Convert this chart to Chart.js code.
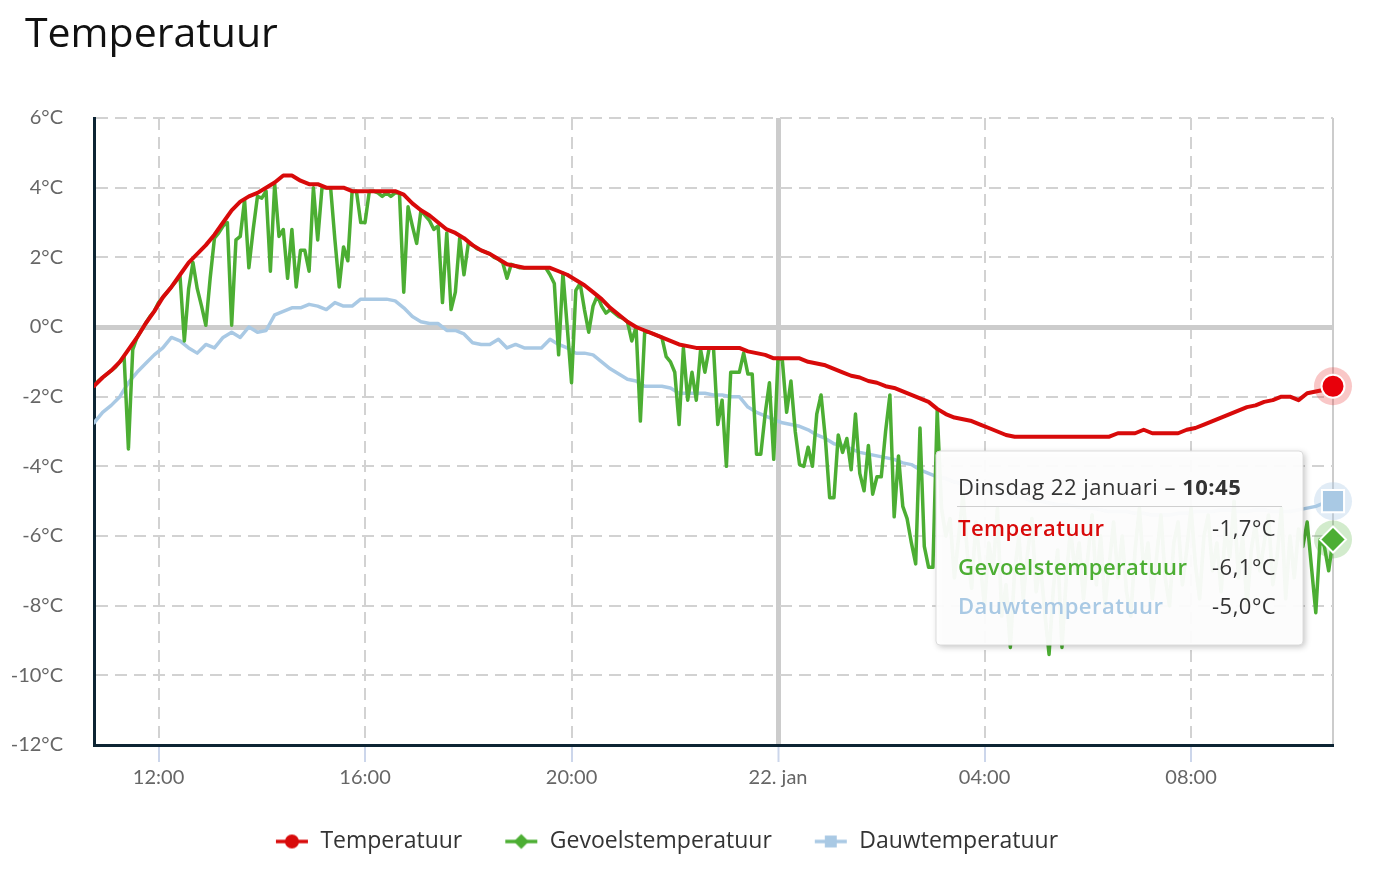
<!DOCTYPE html>
<html>
<head>
<meta charset="utf-8">
<script src="https://cdn.jsdelivr.net/npm/chart.js@4.4.1/dist/chart.umd.min.js"></script>
<style>
html,body{margin:0;padding:0;background:#fff;}
#wrap{position:relative;width:1390px;height:892px;overflow:hidden;}
#title{position:absolute;left:25px;top:3px;margin:0;font-family:"Open Sans",Lato,sans-serif;font-weight:400;font-size:41px;color:#111;line-height:normal;}
#c{position:absolute;left:0;top:0;}
</style>
</head>
<body>
<div id="wrap">
<canvas id="c" width="1390" height="892"></canvas>
<h1 id="title">Temperatuur</h1>
</div>
<script>
// ---- data ----
const startMinute = 645;   // 21 jan 10:45 (minutes since 21 jan 00:00)
const endMinute = 2085;    // 22 jan 10:45
const stepRedDew = 10;     // minutes between samples
const stepFeel = 5;

const seriesNames = ['Temperatuur', 'Gevoelstemperatuur', 'Dauwtemperatuur'];

const xTickMinutes = [720, 960, 1200, 1440, 1680, 1920, 2085];
const xTickLabels = ['12:00', '16:00', '20:00', '22. jan', '04:00', '08:00', ''];
const yTickValues = [-12, -10, -8, -6, -4, -2, 0, 2, 4, 6];
const yTickLabels = ['-12°C', '-10°C', '-8°C', '-6°C', '-4°C', '-2°C', '0°C', '2°C', '4°C', '6°C'];

const tooltipDate = 'Dinsdag 22 januari – ';
const tooltipTime = '10:45';

const temperatuur = [
 -1.7,-1.45,-1.25,-1.0,-0.65,-0.3,0.1,0.45,0.85,1.15,
 1.5,1.85,2.1,2.35,2.65,3.0,3.35,3.6,3.75,3.85,
 4.0,4.15,4.35,4.35,4.2,4.1,4.1,4.0,4.0,4.0,
 3.9,3.9,3.9,3.9,3.9,3.9,3.8,3.55,3.35,3.2,
 3.0,2.8,2.7,2.55,2.35,2.2,2.1,1.95,1.8,1.75,
 1.7,1.7,1.7,1.7,1.6,1.5,1.35,1.2,1.0,0.8,
 0.55,0.35,0.15,0.0,-0.1,-0.2,-0.3,-0.4,-0.5,-0.55,
 -0.6,-0.6,-0.6,-0.6,-0.6,-0.6,-0.7,-0.75,-0.8,-0.9,
 -0.9,-0.9,-0.9,-1.0,-1.05,-1.1,-1.2,-1.3,-1.4,-1.45,
 -1.55,-1.6,-1.7,-1.75,-1.85,-1.95,-2.05,-2.15,-2.35,-2.5,
 -2.6,-2.65,-2.7,-2.8,-2.9,-3.0,-3.1,-3.15,-3.15,-3.15,
 -3.15,-3.15,-3.15,-3.15,-3.15,-3.15,-3.15,-3.15,-3.15,-3.05,
 -3.05,-3.05,-2.95,-3.05,-3.05,-3.05,-3.05,-2.95,-2.9,-2.8,
 -2.7,-2.6,-2.5,-2.4,-2.3,-2.25,-2.15,-2.1,-2.0,-2.0,
 -2.1,-1.9,-1.85,-1.8,-1.7
];

const dauwtemperatuur = [
 -2.75,-2.45,-2.25,-2.0,-1.6,-1.3,-1.05,-0.8,-0.6,-0.3,
 -0.4,-0.6,-0.75,-0.5,-0.6,-0.3,-0.15,-0.3,0.0,-0.15,
 -0.1,0.35,0.45,0.55,0.55,0.65,0.6,0.5,0.7,0.6,
 0.6,0.8,0.8,0.8,0.8,0.75,0.55,0.3,0.15,0.1,
 0.1,-0.1,-0.1,-0.2,-0.45,-0.5,-0.5,-0.35,-0.6,-0.5,
 -0.6,-0.6,-0.6,-0.35,-0.5,-0.6,-0.75,-0.75,-0.8,-1.0,
 -1.2,-1.35,-1.5,-1.55,-1.7,-1.7,-1.7,-1.75,-1.9,-1.9,
 -1.9,-1.9,-1.95,-1.95,-2.0,-2.0,-2.3,-2.45,-2.55,-2.65,
 -2.75,-2.8,-2.85,-2.95,-3.1,-3.2,-3.35,-3.4,-3.5,-3.6,
 -3.65,-3.7,-3.75,-3.8,-3.9,-3.95,-4.1,-4.2,-4.3,-4.35,
 -4.45,-4.5,-4.55,-4.6,-4.7,-4.75,-4.8,-4.85,-4.9,-5.0,
 -5.0,-5.05,-5.1,-5.1,-5.15,-5.2,-5.2,-5.25,-5.3,-5.3,
 -5.3,-5.35,-5.35,-5.4,-5.4,-5.4,-5.35,-5.35,-5.3,-5.3,
 -5.3,-5.25,-5.25,-5.3,-5.3,-5.25,-5.25,-5.3,-5.3,-5.3,
 -5.25,-5.2,-5.15,-5.05,-5.0
];

const gevoelstemperatuur = [
 -1.7,-1.55,-1.45,-1.35,-1.25,-1.15,-1.0,-0.85,-3.5,-0.65,
 -0.3,-0.1,0.1,0.3,0.45,0.7,0.85,1.0,1.15,1.3,
 1.45,-0.4,1.1,1.85,1.1,0.6,0.05,1.4,2.55,2.7,
 2.9,3.0,0.05,2.5,2.6,3.65,1.7,2.8,3.75,3.7,
 3.9,1.6,4.1,2.6,2.8,1.4,2.8,1.15,2.2,2.2,
 1.6,4.0,2.5,4.0,4.0,4.0,2.5,1.15,2.3,1.9,
 3.9,3.9,3.0,3.0,3.9,3.9,3.85,3.75,3.85,3.75,
 3.85,3.85,1.0,3.45,2.9,2.4,3.35,3.2,3.05,2.8,
 2.9,0.7,2.7,0.5,1.0,2.55,1.5,2.4,2.35,2.25,
 2.2,2.15,2.1,2.0,1.95,1.85,1.4,1.8,1.75,1.7,
 1.7,1.7,1.7,1.7,1.7,1.7,1.5,1.25,-0.8,1.55,
 0.0,-1.6,1.05,1.25,0.5,-0.15,0.6,0.9,0.6,0.4,
 0.5,0.4,0.3,0.25,0.15,-0.4,0.0,-2.7,-0.15,-0.15,
 -0.2,-0.25,-0.3,-0.85,-1.0,-1.3,-2.8,-0.6,-2.1,-1.3,
 -2.1,-0.65,-1.3,-0.6,-0.6,-2.8,-2.1,-4.0,-1.3,-1.3,
 -1.3,-0.75,-1.35,-1.35,-3.65,-3.65,-2.5,-1.6,-3.8,-0.9,
 -0.95,-2.45,-1.55,-3.0,-3.95,-4.0,-3.45,-4.0,-2.5,-1.95,
 -3.2,-4.9,-4.9,-3.1,-3.6,-3.2,-4.1,-2.5,-4.2,-4.7,
 -3.4,-4.8,-4.3,-4.3,-3.0,-1.95,-5.45,-3.7,-5.15,-5.5,
 -6.2,-6.8,-2.9,-6.3,-6.9,-6.9,-2.4,-5.2,-6.0,-5.5,
 -7.2,-6.0,-4.8,-6.5,-7.5,-5.6,-6.8,-8.0,-6.2,-7.0,
 -5.2,-8.3,-7.4,-9.2,-7.0,-6.0,-7.8,-6.5,-5.5,-7.6,
 -6.8,-8.2,-9.4,-7.5,-6.4,-9.2,-7.2,-5.8,-7.0,-6.2,
 -7.8,-6.6,-5.4,-7.4,-6.0,-8.0,-6.8,-5.6,-7.2,-6.0,
 -7.6,-8.3,-6.4,-5.2,-7.0,-6.2,-7.8,-6.6,-5.4,-7.2,
 -8.0,-6.2,-5.6,-7.4,-6.4,-5.2,-6.8,-7.8,-6.0,-5.4,
 -7.0,-6.2,-7.6,-5.8,-6.6,-5.0,-7.2,-6.0,-8.0,-6.4,
 -5.6,-7.0,-6.2,-5.4,-7.4,-6.6,-5.2,-7.8,-6.0,-7.2,
 -5.8,-6.3,-5.6,-6.9,-8.2,-6.1,-6.3,-7.0,-6.1
];

// ---- styling ----
const colors = ['#d80a0a', '#4cae33', '#a9c9e4'];
const markerColors = ['#e8000b', '#4cae33', '#a9c9e4'];
const haloColors = ['rgba(232,30,30,0.25)', 'rgba(76,174,51,0.25)', 'rgba(169,201,228,0.35)'];
const shapes = ['circle', 'diamond', 'square'];
const AXISFONT = 'Lato, "Open Sans", sans-serif';
const TEXTFONT = '"Open Sans", Lato, sans-serif';

function toPoints(vals, step) {
  return vals.map((v, i) => ({ x: startMinute + i * step, y: v }));
}

function drawShape(g, shape, x, y, r) {
  g.beginPath();
  if (shape === 'circle') {
    g.arc(x, y, r, 0, Math.PI * 2);
  } else if (shape === 'diamond') {
    g.moveTo(x, y - r); g.lineTo(x + r, y); g.lineTo(x, y + r); g.lineTo(x - r, y); g.closePath();
  } else {
    const s = r * 0.85;
    g.rect(x - s, y - s, 2 * s, 2 * s);
  }
}

function legendIcon(i) {
  const c = document.createElement('canvas');
  c.width = 34; c.height = 18;
  const g = c.getContext('2d');
  g.strokeStyle = colors[i]; g.lineWidth = 3.5;
  g.beginPath(); g.moveTo(1, 9); g.lineTo(33, 9); g.stroke();
  g.fillStyle = colors[i];
  drawShape(g, shapes[i], 17, 9, shapes[i] === 'diamond' ? 7.5 : 7);
  g.fill();
  return c;
}
const legendIcons = [0, 1, 2].map(legendIcon);

const markerPlugin = {
  id: 'lastMarkers',
  afterDatasetsDraw(chart) {
    const ctx = chart.ctx;
    for (let i = chart.data.datasets.length - 1; i >= 0; i--) {
      const meta = chart.getDatasetMeta(i);
      const el = meta.data[meta.data.length - 1];
      ctx.save();
      ctx.beginPath();
      ctx.arc(el.x, el.y, 19, 0, Math.PI * 2);
      ctx.fillStyle = haloColors[i];
      ctx.fill();
      const r = shapes[i] === 'circle' ? 11.5 : 13;
      drawShape(ctx, shapes[i], el.x, el.y, r);
      ctx.fillStyle = markerColors[i];
      ctx.fill();
      ctx.lineWidth = 2;
      ctx.strokeStyle = '#ffffff';
      ctx.stroke();
      ctx.restore();
    }
  }
};

function fmt(v) { return v.toFixed(1).replace('.', ',') + '°C'; }

const tooltipPlugin = {
  id: 'fixedTooltip',
  afterDraw(chart) {
    const ctx = chart.ctx;
    const ca = chart.chartArea;
    const x0 = ca.right - 397, y0 = ca.top + 333, w = 367, h = 194, rr = 4;
    ctx.save();
    ctx.beginPath();
    ctx.moveTo(x0 + rr, y0);
    ctx.lineTo(x0 + w - rr, y0); ctx.quadraticCurveTo(x0 + w, y0, x0 + w, y0 + rr);
    ctx.lineTo(x0 + w, y0 + h - rr); ctx.quadraticCurveTo(x0 + w, y0 + h, x0 + w - rr, y0 + h);
    ctx.lineTo(x0 + rr, y0 + h); ctx.quadraticCurveTo(x0, y0 + h, x0, y0 + h - rr);
    ctx.lineTo(x0, y0 + rr); ctx.quadraticCurveTo(x0, y0, x0 + rr, y0);
    ctx.closePath();
    ctx.shadowColor = 'rgba(0,0,0,0.25)';
    ctx.shadowBlur = 6; ctx.shadowOffsetX = 2; ctx.shadowOffsetY = 2;
    ctx.fillStyle = 'rgba(255,255,255,0.95)';
    ctx.fill();
    ctx.shadowColor = 'rgba(0,0,0,0)';
    ctx.lineWidth = 1; ctx.strokeStyle = '#dcdcdc'; ctx.stroke();

    ctx.textBaseline = 'alphabetic'; ctx.textAlign = 'left';
    if ('letterSpacing' in ctx) ctx.letterSpacing = '0.5px';
    ctx.font = '22px ' + TEXTFONT; ctx.fillStyle = '#333333';
    ctx.fillText(tooltipDate, x0 + 22, y0 + 44);
    const tw = ctx.measureText(tooltipDate).width;
    ctx.font = 'bold 22px ' + TEXTFONT;
    ctx.fillText(tooltipTime, x0 + 22 + tw, y0 + 44);

    ctx.beginPath(); ctx.strokeStyle = '#cfcfcf'; ctx.lineWidth = 1;
    ctx.moveTo(x0 + 21, y0 + 55.5); ctx.lineTo(x0 + 346, y0 + 55.5); ctx.stroke();

    chart.data.datasets.forEach((ds, i) => {
      const yb = y0 + 85 + i * 39;
      ctx.font = '600 22px ' + TEXTFONT; ctx.fillStyle = colors[i];
      ctx.fillText(ds.label, x0 + 22, yb);
      const last = ds.data[ds.data.length - 1].y;
      ctx.font = '22px ' + TEXTFONT; ctx.fillStyle = '#333333';
      ctx.fillText(fmt(last), x0 + 276, yb);
    });
    ctx.restore();
  }
};

const isTick = c => c && c.type === 'tick' && c.tick;

new Chart(document.getElementById('c'), {
  type: 'line',
  data: {
    datasets: [
      { label: seriesNames[0], data: toPoints(temperatuur, stepRedDew), borderColor: colors[0], backgroundColor: colors[0], borderWidth: 4 },
      { label: seriesNames[1], data: toPoints(gevoelstemperatuur, stepFeel), borderColor: colors[1], backgroundColor: colors[1], borderWidth: 3.5 },
      { label: seriesNames[2], data: toPoints(dauwtemperatuur, stepRedDew), borderColor: colors[2], backgroundColor: colors[2], borderWidth: 3.5 }
    ]
  },
  options: {
    responsive: false,
    animation: false,
    events: [],
    elements: {
      point: { radius: 0, hoverRadius: 0 },
      line: { tension: 0, borderJoinStyle: 'round', borderCapStyle: 'round', fill: false }
    },
    layout: { padding: { top: 118, right: 57, bottom: 29, left: 0 } },
    scales: {
      x: {
        type: 'linear',
        min: startMinute,
        max: endMinute,
        afterBuildTicks: s => { s.ticks = xTickMinutes.map(v => ({ value: v })); },
        afterFit: s => { s.height = 43; },
        ticks: {
          autoSkip: false, maxRotation: 0, padding: 4, color: '#666666',
          font: { family: AXISFONT, size: 20 },
          callback: (v, i) => xTickLabels[i]
        },
        grid: {
          drawTicks: true, tickLength: 17, tickWidth: 2,
          tickColor: c => (isTick(c) && c.tick.value === endMinute) ? 'rgba(0,0,0,0)' : '#ccd6eb',
          color: c => (isTick(c) && (c.tick.value === 1440 || c.tick.value === endMinute)) ? '#cccccc' : '#d2d2d2',
          lineWidth: c => (isTick(c) && c.tick.value === 1440) ? 5 : 2
        },
        border: {
          display: true, color: '#0d2433', width: 3,
          dash: c => (isTick(c) && c.tick.value !== 1440 && c.tick.value !== endMinute) ? [12, 7] : []
        }
      },
      y: {
        min: -12, max: 6,
        afterBuildTicks: s => { s.ticks = yTickValues.map(v => ({ value: v })); },
        afterFit: s => { s.width = 94; },
        ticks: {
          padding: 31, color: '#666666',
          font: { family: AXISFONT, size: 20 },
          callback: (v, i) => yTickLabels[i]
        },
        grid: {
          drawTicks: false,
          color: c => (isTick(c) && c.tick.value === 0) ? '#cccccc' : '#d2d2d2',
          lineWidth: c => (isTick(c) && c.tick.value === 0) ? 5 : 2
        },
        border: {
          display: true, color: '#0d2433', width: 3,
          dash: c => (isTick(c) && c.tick.value !== 0) ? [12, 7] : []
        }
      }
    },
    plugins: {
      title: { display: false },
      tooltip: { enabled: false },
      legend: {
        display: true, position: 'bottom',
        labels: {
          usePointStyle: true, pointStyleWidth: 34, padding: 42,
          color: '#333333',
          font: { family: TEXTFONT, size: 23 },
          generateLabels: chart => chart.data.datasets.map((ds, i) => ({
            text: ds.label, pointStyle: legendIcons[i], fillStyle: colors[i],
            strokeStyle: colors[i], lineWidth: 0, hidden: false, datasetIndex: i, fontColor: '#333333'
          }))
        }
      }
    }
  },
  plugins: [markerPlugin, tooltipPlugin]
});
</script>
</body>
</html>
